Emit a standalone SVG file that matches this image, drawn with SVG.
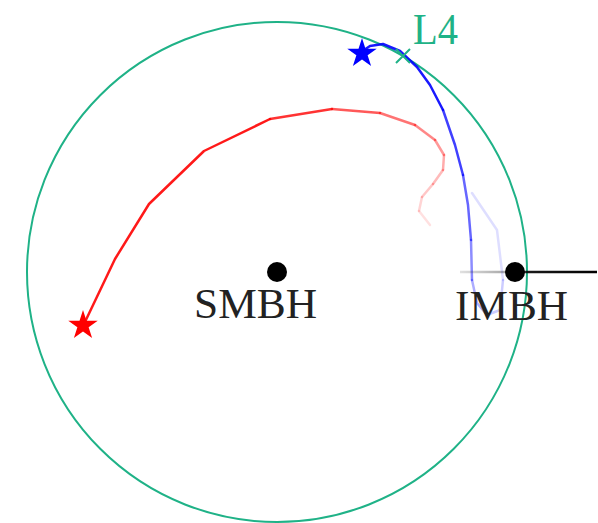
<svg xmlns="http://www.w3.org/2000/svg" width="598" height="523" viewBox="0 0 598 523">
  <defs>
    <style>
      .lbl { font-family: "Liberation Serif", "DejaVu Serif", serif; font-size: 42px; fill: #222; }
      .l4 { font-family: "Liberation Serif", "DejaVu Serif", serif; font-size: 44px; fill: #1fb287; }
      .red { fill: none; stroke: #ff0000; stroke-width: 2.5; stroke-linecap: round; stroke-linejoin: round; }
      .blue { fill: none; stroke: #0000ff; stroke-width: 2.5; stroke-linecap: round; stroke-linejoin: round; }
    </style>
    <path id="star" d="M0,-15.5 L3.48,-4.79 L14.74,-4.79 L5.63,1.83 L9.11,12.54 L0,5.92 L-9.11,12.54 L-5.63,1.83 L-14.74,-4.79 L-3.48,-4.79 Z"/>
    <linearGradient id="imbhTrail" gradientUnits="userSpaceOnUse" x1="460" y1="0" x2="597" y2="0">
      <stop offset="0" stop-color="#000" stop-opacity="0.12"/>
      <stop offset="0.35" stop-color="#000" stop-opacity="0.35"/>
      <stop offset="0.5" stop-color="#000" stop-opacity="0.9"/>
      <stop offset="1" stop-color="#000" stop-opacity="1"/>
    </linearGradient>
  </defs>

  <g id="orbit">
    <circle cx="277" cy="272" r="250" fill="none" stroke="#1fb287" stroke-width="2"/>
  </g>

  <g id="connectors">
    <g id="red-trail">
      <polyline class="red" opacity="0.9" points="84,324 115,259 149,204 204,151 270,119"/>
      <polyline class="red" opacity="0.8" points="270,119 332,109"/>
      <polyline class="red" opacity="0.65" points="332,109 380,113"/>
      <polyline class="red" opacity="0.55" points="380,113 415,125"/>
      <polyline class="red" opacity="0.47" points="415,125 435,140"/>
      <polyline class="red" opacity="0.4" points="435,140 444,155"/>
      <polyline class="red" opacity="0.33" points="444,155 443,170"/>
      <polyline class="red" opacity="0.27" points="443,170 433,184"/>
      <polyline class="red" opacity="0.22" points="433,184 422,197"/>
      <polyline class="red" opacity="0.17" points="422,197 419,211"/>
      <polyline class="red" opacity="0.12" points="419,211 430,225"/>
    </g>
    <g id="blue-trail">
      <polyline class="blue" opacity="0.9" points="364,50 370,46 383,44 400,51 417,67 430,85 443,110"/>
      <polyline class="blue" opacity="0.75" points="443,110 455,145 463,175"/>
      <polyline class="blue" opacity="0.6" points="463,175 468,205 471,240"/>
      <polyline class="blue" opacity="0.45" points="471,240 472,280"/>
      <polyline class="blue" opacity="0.32" points="472,280 477,303 487,315"/>
      <polyline class="blue" opacity="0.2" points="487,315 500,310 503,280"/>
      <polyline class="blue" opacity="0.13" points="503,280 497,230 472,193"/>
    </g>
    <line id="imbh-trail" x1="460" y1="272" x2="597" y2="272" stroke="url(#imbhTrail)" stroke-width="2.5"/>
  </g>

  <g id="SMBH">
    <circle cx="277" cy="272" r="10" fill="#000"/>
    <text class="lbl" x="255.5" y="318" text-anchor="middle" textLength="123" lengthAdjust="spacingAndGlyphs">SMBH</text>
  </g>

  <g id="IMBH">
    <circle cx="515" cy="272" r="10" fill="#000"/>
    <text class="lbl" x="511.5" y="320" text-anchor="middle" textLength="113" lengthAdjust="spacingAndGlyphs">IMBH</text>
  </g>

  <g id="L4">
    <path d="M396,49 L410,63 M396,63 L410,49" stroke="#1fb287" stroke-width="2" fill="none"/>
    <text class="l4" x="413" y="44" textLength="45" lengthAdjust="spacingAndGlyphs">L4</text>
  </g>

  <g id="red-star">
    <use href="#star" x="83" y="325.5" fill="#ff0000"/>
  </g>

  <g id="blue-star">
    <use href="#star" x="362" y="53.5" fill="#0000ff"/>
  </g>
</svg>
